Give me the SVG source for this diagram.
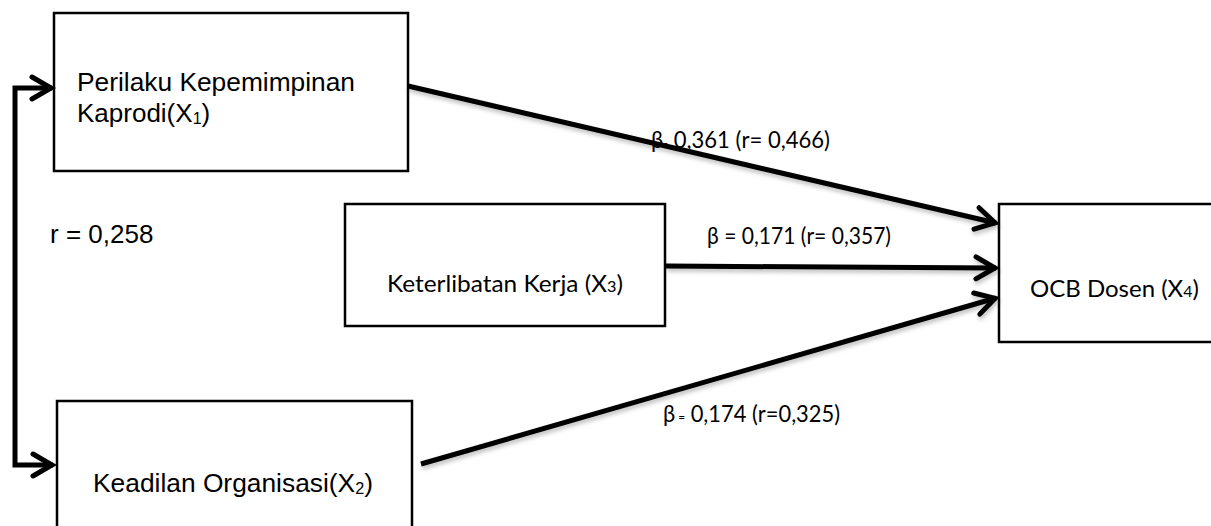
<svg xmlns="http://www.w3.org/2000/svg" width="1211" height="526" viewBox="0 0 1211 526">
<style>
.box{fill:#fff;stroke:#000;stroke-width:2.5}
.arial{font-family:"Liberation Sans",Arial,sans-serif;font-size:26px;fill:#000}
.cal{font-family:Lato,"Open Sans",sans-serif;font-size:24px;fill:#000}
.conn{fill:none;stroke:#000;stroke-width:5}
</style>
<defs>
<marker id="head" markerUnits="userSpaceOnUse" viewBox="-30 -20 40 40" markerWidth="40" markerHeight="40" refX="0" refY="0" orient="auto-start-reverse">
<path d="M -20 -11 L -1 0 L -20 11" fill="none" stroke="#000" stroke-width="5" stroke-linecap="round" stroke-linejoin="miter"/>
</marker>
<filter id="shadow" x="-5%" y="-20%" width="110%" height="160%">
<feDropShadow dx="1" dy="3" stdDeviation="2" flood-color="#000" flood-opacity="0.25"/>
</filter>
</defs>
<rect width="1211" height="526" fill="#fff"/>
<g id="node-x1">
<rect class="box" x="54" y="13" width="354" height="158"/>
<text class="arial" x="77" y="91" textLength="278" lengthAdjust="spacingAndGlyphs">Perilaku Kepemimpinan</text>
<text class="arial" x="77" y="122">Kaprodi(X<tspan font-size="16" dy="2">1</tspan><tspan dy="-2">)</tspan></text>
</g>
<g id="node-x2">
<rect class="box" x="57" y="401" width="355" height="140"/>
<text class="arial" x="93" y="492" textLength="280" lengthAdjust="spacingAndGlyphs">Keadilan Organisasi(X<tspan font-size="16" dy="2">2</tspan><tspan dy="-2">)</tspan></text>
</g>
<g id="node-x3">
<rect class="box" x="345" y="204" width="320" height="122"/>
<text class="cal" x="387" y="292" textLength="236" lengthAdjust="spacingAndGlyphs">Keterlibatan Kerja (X<tspan font-size="16">3</tspan>)</text>
</g>
<g id="node-x4">
<rect class="box" x="999" y="204" width="230" height="138"/>
<text class="cal" x="1030" y="297" font-size="23">OCB Dosen (X<tspan font-size="16">4</tspan>)</text>
</g>
<g id="connectors">
<path class="conn" d="M 52 88 H 15 V 465 H 53" marker-start="url(#head)" marker-end="url(#head)"/>
<g filter="url(#shadow)">
<line class="conn" x1="408" y1="86" x2="996" y2="223" marker-end="url(#head)"/>
<line class="conn" x1="666" y1="266" x2="996" y2="268" marker-end="url(#head)"/>
<line class="conn" x1="421" y1="464" x2="996" y2="298" marker-end="url(#head)"/>
</g>
</g>
<g id="labels">
<text class="arial" x="50" y="243">r = 0,258</text>
<text class="cal" x="651" y="148" textLength="179" lengthAdjust="spacingAndGlyphs">β<tspan font-size="14">-</tspan> 0,361 (r= 0,466)</text>
<text class="cal" x="707" y="244" textLength="184" lengthAdjust="spacingAndGlyphs">β = 0,171 (r= 0,357)</text>
<text class="cal" x="663" y="422" textLength="177" lengthAdjust="spacingAndGlyphs">β<tspan font-size="13"> =</tspan> 0,174 (r=0,325)</text>
</g>
</svg>
